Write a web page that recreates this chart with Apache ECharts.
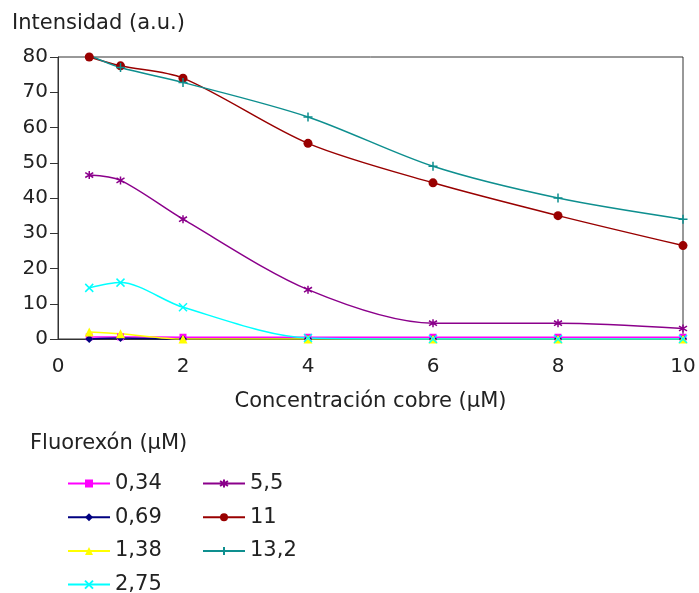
<!DOCTYPE html>
<html>
<head>
<meta charset="utf-8">
<script src="https://cdn.jsdelivr.net/npm/echarts@6/dist/echarts.min.js"></script>
<style>
  html, body { margin: 0; padding: 0; background: #fff; }
  #chart { width: 699px; height: 593px; }
</style>
</head>
<body>
<div id="chart"></div>
<script>
// concentración de cobre (µM)
const xValues = [0.5, 1, 2, 4, 6, 8, 10];
// series de fluorexón (µM)
const names = ['0,34', '0,69', '1,38', '2,75', '5,5', '11', '13,2'];
const s034 = [0.6, 0.6, 0.5, 0.5, 0.5, 0.5, 0.5];
const s069 = [0, 0.3, 0, 0, 0, 0, 0];
const s138 = [2, 1.5, 0, 0, 0, 0, 0];
const s275 = [14.5, 16, 9, 0.3, 0, 0, 0];
const s55 = [46.5, 45, 34, 14, 4.5, 4.5, 3];
const s11 = [80, 77.5, 74, 55.5, 44.3, 35, 26.5];
const s132 = [80.5, 77, 72.8, 63, 49, 40, 34];

const seriesValues = [s034, s069, s138, s275, s55, s11, s132];
const colors = ['#FF00FF', '#000080', '#FFFF00', '#00FFFF', '#8B008B', '#990000', '#0E8F8F'];
const symbols = [
    'rect',
    'diamond',
    'triangle',
    'path://M0,0L10,10M10,0L0,10',
    'path://M5,0L5,10M0,2L10,8M0,8L10,2',
    'circle',
    'path://M5,0L5,10M0,5L10,5'
];
const sizes = [7, 8, 9, 8, 8, 9, 9];

const chart = echarts.init(document.getElementById('chart'));
const font = 'DejaVu Sans';

const series = names.map((n, i) => {
    const isPath = symbols[i].indexOf('path://') === 0;
    return {
        name: n,
        type: 'line',
        smooth: 0.3,
        data: xValues.map((x, j) => [x, seriesValues[i][j]]),
        symbol: symbols[i],
        symbolSize: sizes[i],
        lineStyle: { color: colors[i], width: 1.5 },
        itemStyle: {
            color: colors[i],
            borderColor: colors[i],
            borderWidth: isPath ? 1.5 : 0
        },
        emphasis: { disabled: true }
    };
});

// legend: 4 rows in the first column, 3 in the second, one legend per entry
const legends = names.map((n, i) => {
    const col = i < 4 ? 0 : 1;
    const row = i < 4 ? i : i - 4;
    return {
        data: [n],
        left: col === 0 ? 67 : 202,
        top: 473 + row * 33.7,
        padding: 0,
        itemWidth: 42,
        itemHeight: 10,
        selectedMode: false,
        textStyle: { color: '#222', fontSize: 21, fontFamily: font }
    };
});

chart.setOption({
    animation: false,
    textStyle: { fontFamily: font },
    title: [{
        text: 'Intensidad (a.u.)',
        left: 7,
        top: 8,
        textStyle: { color: '#222', fontSize: 21, fontWeight: 'normal', fontFamily: font }
    }, {
        text: 'Fluorexón (µM)',
        left: 25,
        top: 428,
        textStyle: { color: '#222', fontSize: 21, fontWeight: 'normal', fontFamily: font }
    }],
    grid: {
        left: 58, right: 16, top: 57, bottom: 254,
        show: true, borderColor: '#333', borderWidth: 1
    },
    legend: legends,
    xAxis: {
        type: 'value',
        min: 0,
        max: 10,
        interval: 2,
        name: 'Concentración cobre (µM)',
        nameLocation: 'middle',
        nameGap: 52,
        nameTextStyle: { color: '#222', fontSize: 21, fontFamily: font },
        axisLine: { show: true, lineStyle: { color: '#333' } },
        axisTick: { show: false },
        axisLabel: { color: '#222', fontSize: 20, margin: 18, fontFamily: font },
        splitLine: { show: false }
    },
    yAxis: {
        type: 'value',
        min: 0,
        max: 80,
        interval: 10,
        axisLine: { show: true, lineStyle: { color: '#333' } },
        axisTick: { show: true, length: 8, lineStyle: { color: '#333' } },
        axisLabel: { color: '#222', fontSize: 20, margin: 10, fontFamily: font },
        splitLine: { show: false }
    },
    series: series
});
</script>
</body>
</html>
